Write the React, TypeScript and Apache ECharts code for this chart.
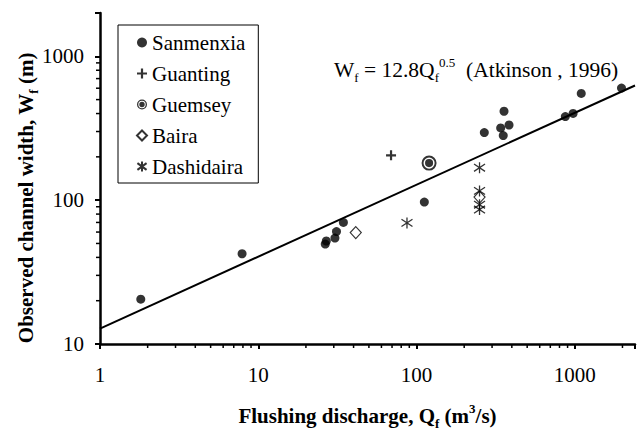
import React, { useEffect, useRef } from "react";
import * as echarts from "echarts";

// ---- data ----
const sanmenxiaQ = [1.81, 7.9, 26.5, 26.9, 30.5, 31.2, 34.5, 112, 268, 340, 357, 353, 384, 871, 975, 1098, 1972];
const sanmenxiaW = [20.5, 42.4, 49.5, 52, 54.5, 60.5, 70, 97, 295, 318, 415, 281, 333, 381, 401, 552, 601];
const guantingQ = [69];
const guantingW = [205];
const guemseyQ = [120];
const guemseyW = [181];
const bairaQ = [41.3, 250];
const bairaW = [59.5, 105];
const dashidairaQ = [87, 250, 250, 250, 250];
const dashidairaW = [69.5, 168, 116, 93, 86];
const fitQ = [1, 2400];
const fitW = [12.8, 627];
const xTickLabels = ["1", "10", "100", "1000"];
const yTickLabels = ["10", "100", "1000"];
const xMinorTicks = [2, 3, 4, 5, 6, 7, 8, 9, 20, 30, 40, 50, 60, 70, 80, 90, 200, 300, 400, 500, 600, 700, 800, 900, 2000];
const yMinorTicks = [20, 30, 40, 50, 60, 70, 80, 90, 200, 300, 400, 500, 600, 700, 800, 900, 2000];

const FONT = "'Times New Roman', 'Liberation Serif', serif";

const pairs = (xs: number[], ys: number[]) => xs.map((x, i) => [x, ys[i]]);

const PLUS = "path://M-1.1,-5 L1.1,-5 L1.1,-1.1 L5,-1.1 L5,1.1 L1.1,1.1 L1.1,5 L-1.1,5 L-1.1,1.1 L-5,1.1 L-5,-1.1 L-1.1,-1.1 Z";
const RING =
  "path://M0,-10 A10,10 0 1,1 0,10 A10,10 0 1,1 0,-10 Z M0,-7.4 A7.4,7.4 0 1,0 0,7.4 A7.4,7.4 0 1,0 0,-7.4 Z M0,-5.4 A5.4,5.4 0 1,1 0,5.4 A5.4,5.4 0 1,1 0,-5.4 Z";
const STAR = "path://M0,-6 L0,6 M-5.5,-4 L5.5,4 M-5.5,4 L5.5,-4";

export default function App() {
  const ref = useRef<HTMLDivElement>(null);
  useEffect(() => {
    if (!ref.current) return;
    const chart = echarts.init(ref.current, null, { renderer: "svg" });
    const label = (v: number) => String(Math.round(v));
    chart.setOption({
      animation: false,
      backgroundColor: "#fff",
      textStyle: { fontFamily: FONT, color: "#000" },
      grid: { left: 100, right: 0, top: 13, bottom: 74 },
      legend: {
        orient: "vertical",
        left: 118,
        top: 25,
        padding: [7, 13, 6, 18],
        itemGap: 10,
        itemWidth: 10,
        itemHeight: 10,
        borderColor: "#000",
        borderWidth: 1,
        backgroundColor: "#fff",
        textStyle: { fontFamily: FONT, fontSize: 21, color: "#000" },
        data: ["Sanmenxia", "Guanting", "Guemsey", "Baira", "Dashidaira"],
      },
      xAxis: {
        type: "log",
        min: 1,
        max: 2400,
        logBase: 10,
        name: "{b|Flushing discharge, Q}{s|f}{b| (m}{p|3}{b|/s)}",
        nameLocation: "middle",
        nameGap: 58,
        nameTextStyle: {
          fontFamily: FONT,
          rich: {
            b: { fontFamily: FONT, fontSize: 21, fontWeight: "bold", color: "#000", lineHeight: 28 },
            s: { fontFamily: FONT, fontSize: 13, fontWeight: "bold", color: "#000", verticalAlign: "bottom", lineHeight: 13 },
            p: { fontFamily: FONT, fontSize: 13, fontWeight: "bold", color: "#000", verticalAlign: "top", lineHeight: 13 },
          },
        },
        axisLine: { lineStyle: { color: "#000", width: 2.5 } },
        axisTick: { length: 5, lineStyle: { color: "#000", width: 2 } },
        axisLabel: {
          fontFamily: FONT,
          fontSize: 21,
          color: "#000",
          margin: 20,
          formatter: (v: number) => {
            const s = label(v);
            return xTickLabels.includes(s) ? s : "";
          },
        },
        splitLine: { show: false },
      },
      yAxis: {
        type: "log",
        min: 10,
        max: 2000,
        logBase: 10,
        axisLine: { lineStyle: { color: "#000", width: 2.5 } },
        axisTick: { length: 5, lineStyle: { color: "#000", width: 2 } },
        axisLabel: {
          fontFamily: FONT,
          fontSize: 21,
          color: "#000",
          margin: 16,
          formatter: (v: number) => {
            const s = label(v);
            return yTickLabels.includes(s) ? s : "";
          },
        },
        splitLine: { show: false },
      },
      graphic: [
        {
          type: "text",
          x: 26,
          y: 198,
          rotation: Math.PI / 2,
          style: {
            text: "{b|Observed channel width, W}{s|f}{b| (m)}",
            fontFamily: FONT,
            align: "center",
            verticalAlign: "middle",
            rich: {
              b: { fontFamily: FONT, fontSize: 21, fontWeight: "bold", fill: "#000", lineHeight: 28 },
              s: { fontFamily: FONT, fontSize: 13, fontWeight: "bold", fill: "#000", verticalAlign: "bottom", lineHeight: 13 },
            },
          },
        },
        {
          type: "text",
          x: 334,
          y: 70,
          style: {
            text: "{n|W}{s|f}{n| = 12.8Q}{s|f}{p|0.5}{n|  (Atkinson , 1996)}",
            fontFamily: FONT,
            align: "left",
            verticalAlign: "middle",
            rich: {
              n: { fontFamily: FONT, fontSize: 21.5, fill: "#000", lineHeight: 28 },
              s: { fontFamily: FONT, fontSize: 13, fill: "#000", verticalAlign: "bottom", lineHeight: 13 },
              p: { fontFamily: FONT, fontSize: 13, fill: "#000", verticalAlign: "top", lineHeight: 13 },
            },
          },
        },
      ],
      series: [
        {
          name: "fit",
          type: "line",
          data: pairs(fitQ, fitW),
          symbol: "none",
          lineStyle: { color: "#000", width: 2 },
          silent: true,
          z: 1,
        },
        {
          name: "xminor",
          type: "custom",
          clip: false,
          silent: true,
          data: xMinorTicks.map((v) => [v, 10]),
          renderItem: (params: any, api: any) => {
            const p = api.coord([api.value(0), api.value(1)]);
            return {
              type: "line",
              shape: { x1: p[0], y1: p[1], x2: p[0], y2: p[1] + 4 },
              style: { stroke: "#000", lineWidth: 1.5 },
            };
          },
        },
        {
          name: "yminor",
          type: "custom",
          clip: false,
          silent: true,
          data: yMinorTicks.map((v) => [1, v]),
          renderItem: (params: any, api: any) => {
            const p = api.coord([api.value(0), api.value(1)]);
            return {
              type: "line",
              shape: { x1: p[0] - 4, y1: p[1], x2: p[0], y2: p[1] },
              style: { stroke: "#000", lineWidth: 1.5 },
            };
          },
        },
        {
          name: "Sanmenxia",
          type: "scatter",
          data: pairs(sanmenxiaQ, sanmenxiaW),
          symbol: "circle",
          symbolSize: 9,
          itemStyle: { color: "#000" },
          z: 3,
        },
        {
          name: "Guanting",
          type: "scatter",
          data: pairs(guantingQ, guantingW),
          symbol: PLUS,
          symbolSize: 10,
          itemStyle: { color: "#000" },
          z: 3,
        },
        {
          name: "Guemsey",
          type: "scatter",
          data: pairs(guemseyQ, guemseyW),
          symbol: RING,
          symbolSize: 15,
          itemStyle: { color: "#000" },
          z: 3,
        },
        {
          name: "Baira",
          type: "scatter",
          data: pairs(bairaQ, bairaW),
          symbol: "diamond",
          symbolSize: [11, 12],
          itemStyle: { color: "#fff", borderColor: "#000", borderWidth: 1.2 },
          z: 3,
        },
        {
          name: "Dashidaira",
          type: "scatter",
          data: pairs(dashidairaQ, dashidairaW),
          symbol: STAR,
          symbolSize: 11,
          itemStyle: { color: "rgba(0,0,0,0)", borderColor: "#000", borderWidth: 1.3 },
          z: 4,
        },
      ],
    });
    return () => chart.dispose();
  }, []);
  return (
    <div
      ref={ref}
      style={{ position: "fixed", left: 0, top: 0, width: 638, height: 435, background: "#fff" }}
    />
  );
}
